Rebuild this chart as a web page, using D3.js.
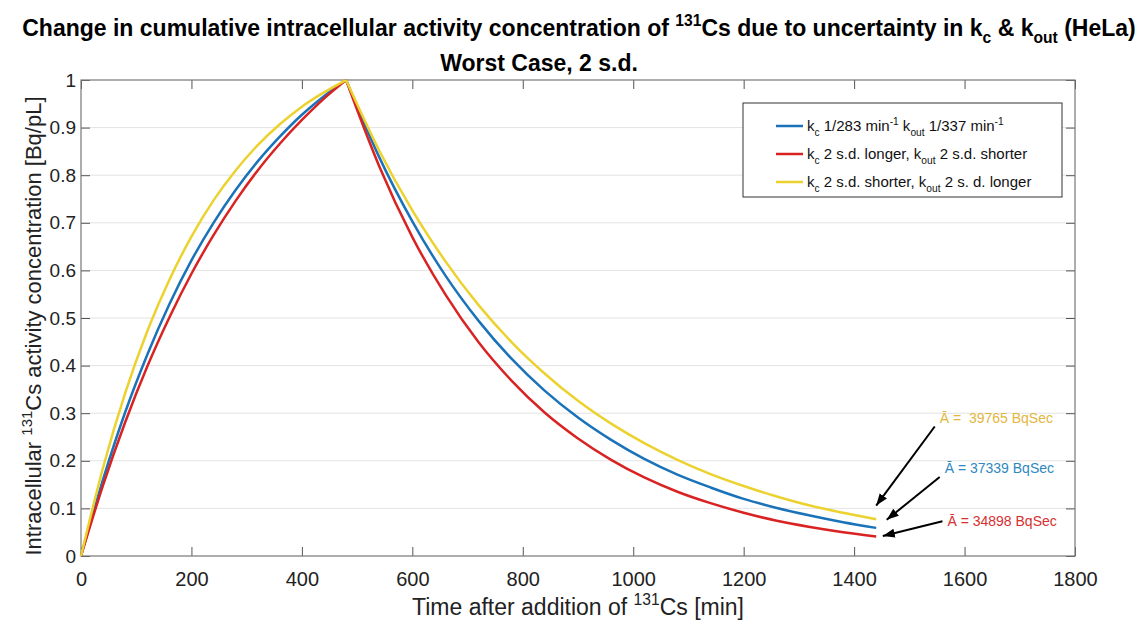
<!DOCTYPE html>
<html>
<head>
<meta charset="utf-8">
<script src="https://cdn.jsdelivr.net/npm/d3@7"></script>
<style>
  body { margin: 0; background: #fff; }
  svg { font-family: "Liberation Sans", Arial, sans-serif; }
</style>
</head>
<body>
<svg id="chart" width="1146" height="628"></svg>
<script>
// time points (min)
const uptakeTime = [0, 40, 80, 120, 160, 200, 240, 280, 320, 360, 400, 440, 480];
const decayTime = [480, 540, 600, 660, 720, 780, 840, 900, 960, 1020, 1080, 1140, 1200, 1260, 1320, 1380, 1440];

// normalised intracellular concentration, uptake phase
const blueUp = [0, 0.161, 0.302, 0.423, 0.529, 0.621, 0.700, 0.769, 0.829, 0.881, 0.927, 0.966, 1];
const redUp = [0, 0.149, 0.281, 0.398, 0.501, 0.593, 0.674, 0.746, 0.810, 0.866, 0.916, 0.961, 1];
const yellowUp = [0, 0.186, 0.342, 0.472, 0.580, 0.671, 0.747, 0.810, 0.863, 0.907, 0.944, 0.974, 1];

// efflux phase
const blueDown = [1, 0.838, 0.703, 0.589, 0.494, 0.414, 0.347, 0.291, 0.244, 0.204, 0.171, 0.144, 0.120, 0.101, 0.085, 0.071, 0.059];
const redDown = [1, 0.819, 0.670, 0.549, 0.449, 0.368, 0.301, 0.247, 0.202, 0.165, 0.135, 0.111, 0.091, 0.074, 0.061, 0.050, 0.041];
const yellowDown = [1, 0.852, 0.726, 0.619, 0.527, 0.449, 0.383, 0.326, 0.278, 0.237, 0.202, 0.172, 0.147, 0.125, 0.106, 0.091, 0.077];

const xTicks = [0, 200, 400, 600, 800, 1000, 1200, 1400, 1600, 1800];
const yTicks = [0, 0.1, 0.2, 0.3, 0.4, 0.5, 0.6, 0.7, 0.8, 0.9, 1];

// legend entries as rich text pieces
const legendLabels = [
  [{ t: "k" }, { t: "c", sub: true }, { t: " 1/283 min" }, { t: "-1", sup: true }, { t: " k" }, { t: "out", sub: true }, { t: " 1/337 min" }, { t: "-1", sup: true }],
  [{ t: "k" }, { t: "c", sub: true }, { t: " 2 s.d. longer, k" }, { t: "out", sub: true }, { t: " 2 s.d. shorter" }],
  [{ t: "k" }, { t: "c", sub: true }, { t: " 2 s.d. shorter, k" }, { t: "out", sub: true }, { t: " 2 s. d. longer" }],
];

// cumulative activity labels, in data units
const annotations = [
  { text: "Ā =  39765 BqSec", tx: 1555, ty: 0.28, from: [1546, 0.272], to: [1440, 0.106], color: "#e3b63d" },
  { text: "Ā = 37339 BqSec", tx: 1564, ty: 0.175, from: [1555, 0.166], to: [1459, 0.076], color: "#2f88c0" },
  { text: "Ā = 34898 BqSec", tx: 1569, ty: 0.063, from: [1560, 0.073], to: [1452, 0.042], color: "#d63030" },
];

const series = [
  { up: blueUp, down: blueDown, color: "#1a72b8" },
  { up: redUp, down: redDown, color: "#d92323" },
  { up: yellowUp, down: yellowDown, color: "#ecd22e" },
];

const svg = d3.select("#chart");

const x = d3.scaleLinear().domain([0, 1800]).range([81, 1075]);
const y = d3.scaleLinear().domain([0, 1]).range([556, 80]);

// helper for super/subscripts
function rich(sel, segs, fs) {
  let cur = 0;
  segs.forEach((s) => {
    const off = s.sup ? -0.42 * fs : s.sub ? 0.32 * fs : 0;
    sel
      .append("tspan")
      .attr("dy", off - cur)
      .style("font-size", (s.sup || s.sub ? 0.68 * fs : fs) + "px")
      .text(s.t);
    cur = off;
  });
}

// gridlines
svg
  .append("g")
  .selectAll("line")
  .data(yTicks.slice(1, -1))
  .join("line")
  .attr("x1", x(0))
  .attr("x2", x(1800))
  .attr("y1", (d) => y(d))
  .attr("y2", (d) => y(d))
  .attr("stroke", "#e3e3e3")
  .attr("stroke-width", 1);

// axes
const tickLen = -9;
const gx = svg
  .append("g")
  .attr("transform", `translate(0,${y(0)})`)
  .call(
    d3.axisBottom(x).tickValues(xTicks).tickSizeInner(tickLen).tickSizeOuter(0).tickPadding(16)
      .tickFormat(d3.format("d"))
  );
const gy = svg
  .append("g")
  .attr("transform", `translate(${x(0)},0)`)
  .call(
    d3.axisLeft(y).tickValues(yTicks).tickSizeInner(tickLen).tickSizeOuter(0).tickPadding(5)
      .tickFormat((d) => (d === 0 || d === 1 ? d3.format("d")(d) : d3.format(".1f")(d)))
  );
const gt = svg
  .append("g")
  .attr("transform", `translate(0,${y(1)})`)
  .call(d3.axisTop(x).tickValues(xTicks).tickSizeInner(tickLen).tickSizeOuter(0).tickFormat(""));
const gr = svg
  .append("g")
  .attr("transform", `translate(${x(1800)},0)`)
  .call(d3.axisRight(y).tickValues(yTicks).tickSizeInner(tickLen).tickSizeOuter(0).tickFormat(""));

[gx, gy, gt, gr].forEach((g) => {
  g.select(".domain").remove();
  g.selectAll(".tick line").attr("stroke", "#555");
  g.selectAll(".tick text").attr("fill", "#222").style("font-size", "20px").style("font-family", "Liberation Sans, Arial, sans-serif");
});
gy.selectAll(".tick text").style("font-size", "19px");

// box
svg
  .append("rect")
  .attr("x", x(0))
  .attr("y", y(1))
  .attr("width", x(1800) - x(0))
  .attr("height", y(0) - y(1))
  .attr("fill", "none")
  .attr("stroke", "#777")
  .attr("stroke-width", 1.2);

// curves
const line = d3
  .line()
  .x((d) => x(d[0]))
  .y((d) => y(d[1]))
  .curve(d3.curveMonotoneX);

svg
  .append("g")
  .attr("fill", "none")
  .attr("stroke-width", 2.5)
  .selectAll("path")
  .data(series)
  .join("path")
  .attr("stroke", (d) => d.color)
  .attr("d", (d) =>
    line(d3.zip(uptakeTime, d.up)) + line(d3.zip(decayTime, d.down))
  );

// arrows
svg
  .append("defs")
  .append("marker")
  .attr("id", "head")
  .attr("markerUnits", "userSpaceOnUse")
  .attr("viewBox", "0 -5 12 10")
  .attr("refX", 12)
  .attr("refY", 0)
  .attr("markerWidth", 12)
  .attr("markerHeight", 10)
  .attr("orient", "auto")
  .append("path")
  .attr("d", "M0,-4.5L12,0L0,4.5Z")
  .attr("fill", "#000");

svg
  .append("g")
  .selectAll("line")
  .data(annotations)
  .join("line")
  .attr("x1", (d) => x(d.from[0]))
  .attr("y1", (d) => y(d.from[1]))
  .attr("x2", (d) => x(d.to[0]))
  .attr("y2", (d) => y(d.to[1]))
  .attr("stroke", "#000")
  .attr("stroke-width", 2)
  .attr("marker-end", "url(#head)");

svg
  .append("g")
  .selectAll("text")
  .data(annotations)
  .join("text")
  .attr("x", (d) => x(d.tx))
  .attr("y", (d) => y(d.ty))
  .attr("fill", (d) => d.color)
  .style("font-size", "14px")
  .style("white-space", "pre")
  .text((d) => d.text);

// legend
const legend = svg.append("g");
legend
  .append("rect")
  .attr("x", 743)
  .attr("y", 103)
  .attr("width", 319)
  .attr("height", 94)
  .attr("fill", "#fff")
  .attr("stroke", "#333")
  .attr("stroke-width", 1);

series.forEach((s, i) => {
  const ly = 126 + i * 28;
  legend
    .append("line")
    .attr("x1", 776)
    .attr("x2", 803)
    .attr("y1", ly)
    .attr("y2", ly)
    .attr("stroke", s.color)
    .attr("stroke-width", 2.5);
  const t = legend.append("text").attr("x", 807).attr("y", ly + 5).attr("fill", "#111");
  rich(t, legendLabels[i], 15);
});

// axis labels
const xl = svg
  .append("text")
  .attr("x", (x(0) + x(1800)) / 2)
  .attr("y", 615)
  .attr("text-anchor", "middle")
  .attr("fill", "#222");
rich(xl, [{ t: "Time after addition of " }, { t: "131", sup: true }, { t: "Cs [min]" }], 23);

const yl = svg
  .append("text")
  .attr("transform", `translate(41,${(y(0) + y(1)) / 2 + 8}) rotate(-90)`)
  .attr("text-anchor", "middle")
  .attr("fill", "#222");
rich(yl, [{ t: "Intracellular " }, { t: "131", sup: true }, { t: "Cs activity concentration [Bq/pL]" }], 22);

// title
const t1 = svg
  .append("text")
  .attr("x", 579)
  .attr("y", 36)
  .attr("text-anchor", "middle")
  .attr("font-weight", "bold")
  .attr("fill", "#000");
rich(
  t1,
  [
    { t: "Change in cumulative intracellular activity concentration of " },
    { t: "131", sup: true },
    { t: "Cs due to uncertainty in k" },
    { t: "c", sub: true },
    { t: " & k" },
    { t: "out", sub: true },
    { t: " (HeLa)" },
  ],
  23
);
// fit the long title to its width in the figure
const w1 = t1.node().getBBox().width;
if (w1 > 1114) {
  t1.attr("transform", `translate(579,0) scale(${1114 / w1},1) translate(-579,0)`);
}

svg
  .append("text")
  .attr("x", 539)
  .attr("y", 71)
  .attr("text-anchor", "middle")
  .attr("font-weight", "bold")
  .style("font-size", "23px")
  .text("Worst Case, 2 s.d.");
</script>
</body>
</html>
